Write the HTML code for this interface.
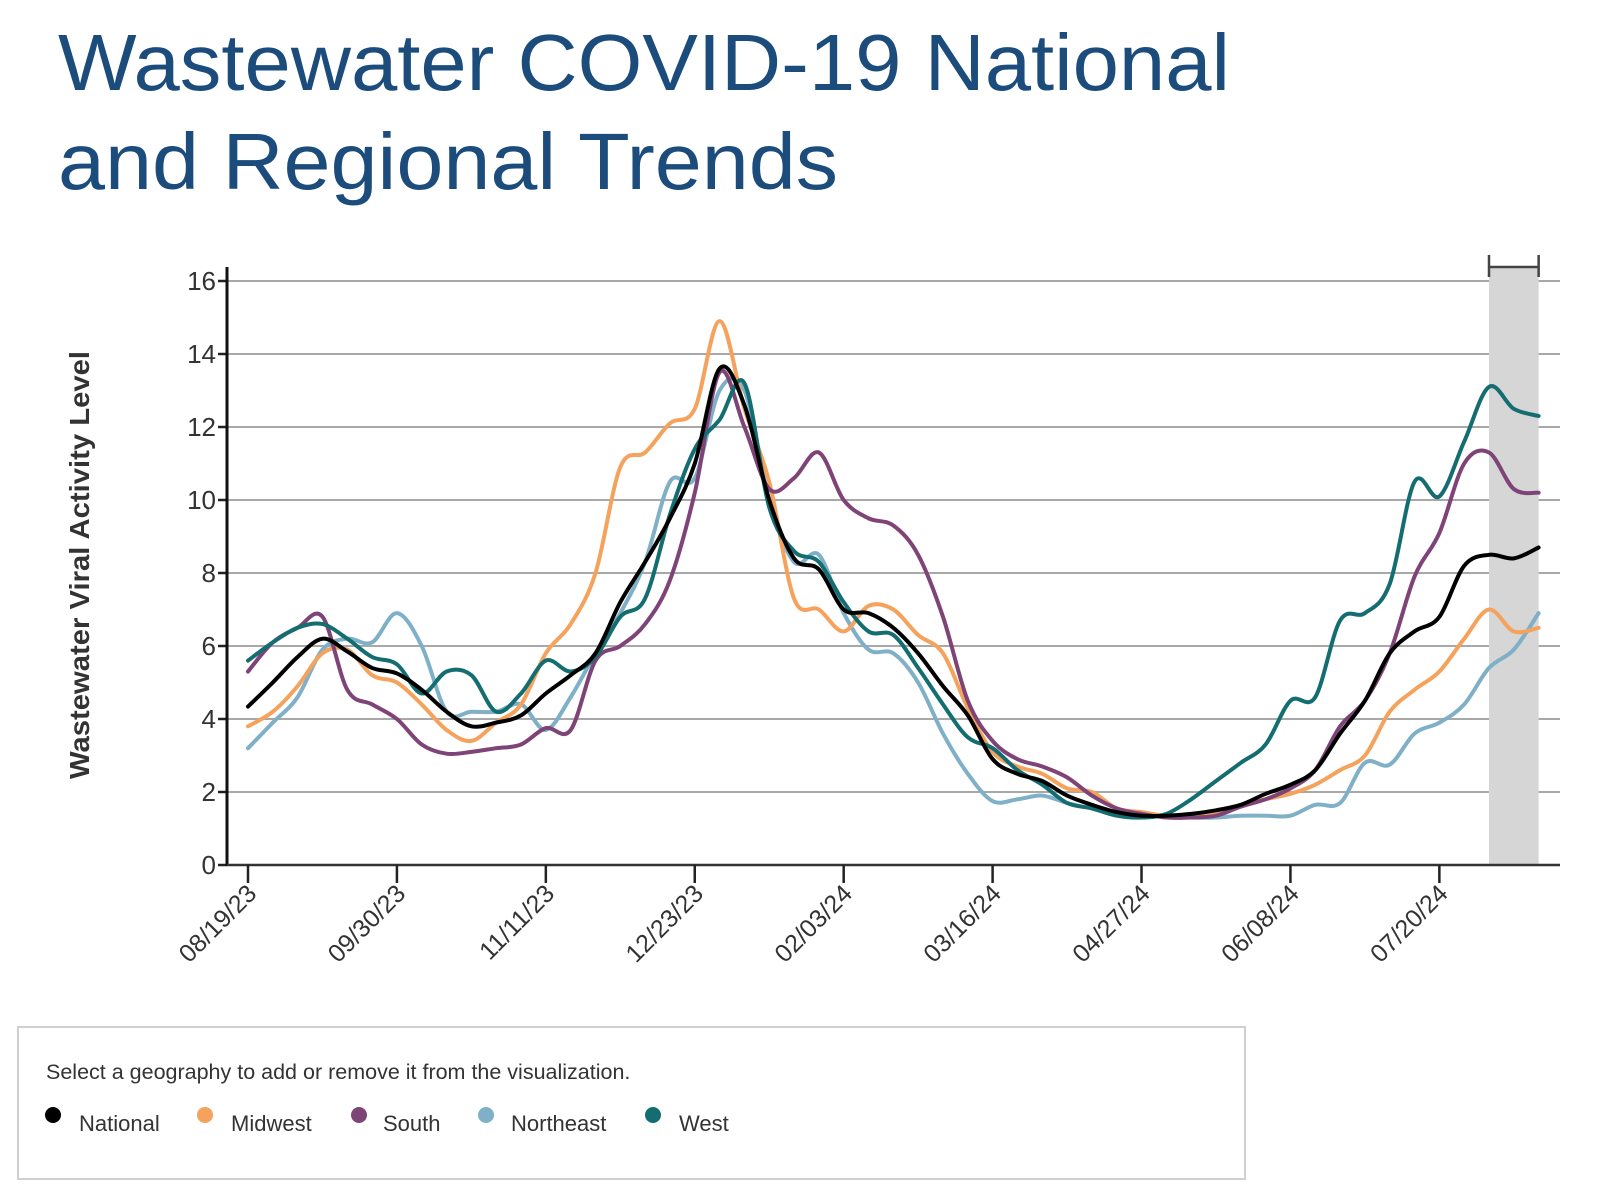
<!DOCTYPE html>
<html><head><meta charset="utf-8"><style>
html,body{margin:0;padding:0;background:#fff;}
body{width:1600px;height:1197px;overflow:hidden;position:relative;font-family:"Liberation Sans",sans-serif;}
</style></head><body>
<svg id="chart" width="1600" height="1197" viewBox="0 0 1600 1197" xmlns="http://www.w3.org/2000/svg" style="position:absolute;left:0;top:0">
<text x="58" y="90" font-size="80" fill="#1b4c7c" textLength="1172" lengthAdjust="spacingAndGlyphs">Wastewater COVID-19 National</text>
<text x="58" y="189" font-size="80" fill="#1b4c7c" textLength="780" lengthAdjust="spacingAndGlyphs">and Regional Trends</text>
<g id="grid"></g>
<rect id="band" fill="#d6d6d6"></rect>
<g id="bracket" stroke="#444" stroke-width="2.5" fill="none"></g>
<g id="series"></g>
<g id="axes"></g>
<text x="0" y="0" transform="translate(89,565) rotate(-90)" text-anchor="middle" font-size="28" font-weight="bold" fill="#333" textLength="428" lengthAdjust="spacingAndGlyphs">Wastewater Viral Activity Level</text>
<rect x="18" y="1027" width="1227" height="152" fill="#fff" stroke="#d0d0d0" stroke-width="2"></rect>
<text x="46" y="1079" font-size="21.5" fill="#333">Select a geography to add or remove it from the visualization.</text>
<g><circle cx="53" cy="1115" r="8" fill="#000"/><text x="79" y="1131" font-size="22" fill="#333">National</text></g>
<g><circle cx="205" cy="1115" r="8" fill="#f5a25d"/><text x="231" y="1131" font-size="22" fill="#333">Midwest</text></g>
<g><circle cx="359" cy="1115" r="8" fill="#7e4377"/><text x="383" y="1131" font-size="22" fill="#333">South</text></g>
<g><circle cx="486" cy="1115" r="8" fill="#7fb0c7"/><text x="511" y="1131" font-size="22" fill="#333">Northeast</text></g>
<g><circle cx="653" cy="1115" r="8" fill="#136d71"/><text x="679" y="1131" font-size="22" fill="#333">West</text></g>
</svg>
<script>
const weeks = [0,1,2,3,4,5,6,7,8,9,10,11,12,13,14,15,16,17,18,19,20,21,22,23,24,25,26,27,28,29,30,31,32,33,34,35,36,37,38,39,40,41,42,43,44,45,46,47,48,49,50,51,52];
const national = [4.34,5.0,5.7,6.2,5.85,5.4,5.25,4.8,4.2,3.8,3.9,4.1,4.7,5.2,5.8,7.2,8.3,9.5,11.0,13.6,12.6,10.0,8.4,8.1,7.0,6.9,6.5,5.8,4.9,4.1,2.9,2.5,2.3,1.9,1.65,1.45,1.35,1.35,1.4,1.5,1.65,1.95,2.2,2.6,3.6,4.5,5.8,6.4,6.8,8.2,8.5,8.4,8.7];
const midwest = [3.8,4.2,4.9,5.8,5.9,5.2,5.0,4.4,3.7,3.4,3.9,4.4,5.8,6.6,8.0,10.9,11.3,12.1,12.5,14.9,12.5,10.5,7.3,7.0,6.4,7.1,7.0,6.3,5.8,4.3,3.1,2.7,2.5,2.1,2.0,1.55,1.45,1.35,1.35,1.4,1.6,1.8,1.95,2.2,2.6,3.0,4.2,4.8,5.3,6.2,7.0,6.4,6.5];
const south = [5.3,6.1,6.5,6.8,4.8,4.4,4.0,3.3,3.05,3.1,3.2,3.3,3.75,3.7,5.6,6.0,6.6,7.8,10.2,13.5,12.0,10.3,10.6,11.3,10.0,9.5,9.3,8.5,6.8,4.5,3.4,2.9,2.7,2.4,1.9,1.55,1.4,1.3,1.3,1.35,1.6,1.8,2.1,2.6,3.8,4.5,5.8,7.9,9.1,11.0,11.3,10.3,10.2];
const northeast = [3.2,3.9,4.6,5.9,6.2,6.1,6.9,6.0,4.2,4.2,4.2,4.4,3.7,4.6,5.8,6.9,8.3,10.5,10.6,13.0,13.0,10.0,8.3,8.5,6.9,5.9,5.8,5.0,3.6,2.5,1.75,1.8,1.9,1.7,1.55,1.45,1.3,1.35,1.3,1.3,1.35,1.35,1.35,1.65,1.7,2.8,2.75,3.6,3.9,4.4,5.4,5.9,6.9];
const west = [5.6,6.1,6.5,6.6,6.2,5.7,5.5,4.7,5.3,5.2,4.2,4.7,5.6,5.3,5.7,6.8,7.3,9.6,11.4,12.2,13.2,9.8,8.6,8.3,7.2,6.4,6.3,5.4,4.4,3.5,3.2,2.6,2.2,1.7,1.55,1.35,1.3,1.4,1.8,2.3,2.8,3.3,4.5,4.6,6.7,6.9,7.7,10.5,10.1,11.6,13.1,12.5,12.3];
const yTicks = [0,2,4,6,8,10,12,14,16];
const xTickWeeks = [0,6,12,18,24,30,36,42,48];
const xTickLabels = ["08/19/23","09/30/23","11/11/23","12/23/23","02/03/24","03/16/24","04/27/24","06/08/24","07/20/24"];
const bandStartWeek = 50.0;
const bandEndWeek = 52.0;

const NS='http://www.w3.org/2000/svg';
const X0=248, PW=24.82, Y0=865, PU=36.5, AXL=227, AXR=1560;
const x = w => X0 + w*PW;
const y = v => Y0 - v*PU;
function mk(tag, attrs, parent){const e=document.createElementNS(NS,tag);for(const k in attrs)e.setAttribute(k,attrs[k]);parent.appendChild(e);return e;}

const grid=document.getElementById('grid');
const axes=document.getElementById('axes');
yTicks.forEach(t=>{
  if(t>0){const g=mk('line',{x1:AXL,x2:AXR,y1:y(t),y2:y(t),stroke:'#a8a8a8','stroke-width':2},grid);
  
  }
  const tk=mk('line',{x1:AXL-9,x2:AXL,y1:y(t),y2:y(t),stroke:'#222','stroke-width':2.5},axes);
  
  
  const lb=mk('text',{x:AXL-11,y:y(t)+9,'text-anchor':'end','font-size':26,fill:'#333'},axes);
  lb.textContent=t;
  
  
});
const band=document.getElementById('band');
band.setAttribute('x',x(bandStartWeek));band.setAttribute('width',x(bandEndWeek)-x(bandStartWeek));
band.setAttribute('y',267);band.setAttribute('height',Y0-267);
const br=document.getElementById('bracket');
mk('path',{d:`M${x(bandStartWeek)},255 V277 M${x(bandStartWeek)},267 H${x(bandEndWeek)} M${x(bandEndWeek)},255 V277`},br);

const yl=mk('line',{x1:AXL,x2:AXL,y1:267,y2:Y0+1,stroke:'#111','stroke-width':3},axes);


const xl=mk('line',{x1:AXL,x2:AXR,y1:Y0,y2:Y0,stroke:'#333','stroke-width':2.5},axes);


xTickWeeks.forEach((w,i)=>{
  const tk=mk('line',{x1:x(w),x2:x(w),y1:Y0,y2:Y0+18,stroke:'#222','stroke-width':2.5},axes);
  
  
  const lb=mk('text',{transform:`translate(${x(w)+10},${Y0+30}) rotate(-45)`,'text-anchor':'end','font-size':25,fill:'#333'},axes);
  lb.textContent=xTickLabels[i];
  
  
});

function smooth(vals){
  const p=vals.map((v,i)=>[x(weeks[i]),y(v)]);
  let d=`M${p[0][0]},${p[0][1]}`;
  for(let i=0;i<p.length-1;i++){
    const p0=p[Math.max(0,i-1)],p1=p[i],p2=p[i+1],p3=p[Math.min(p.length-1,i+2)];
    const c1=[p1[0]+(p2[0]-p0[0])/6,p1[1]+(p2[1]-p0[1])/6];
    const c2=[p2[0]-(p3[0]-p1[0])/6,p2[1]-(p3[1]-p1[1])/6];
    d+=` C${c1[0].toFixed(1)},${c1[1].toFixed(1)} ${c2[0].toFixed(1)},${c2[1].toFixed(1)} ${p2[0].toFixed(1)},${p2[1].toFixed(1)}`;
  }
  return d;
}
const sg=document.getElementById('series');
[[northeast,'#7fb0c7','northeast-line'],[midwest,'#f5a25d','midwest-line'],[south,'#7e4377','south-line'],[west,'#136d71','west-line'],[national,'#000','national-line']].forEach(s=>{
  const p=mk('path',{d:smooth(s[0]),fill:'none',stroke:s[1],'stroke-width':4,'stroke-linejoin':'round','stroke-linecap':'round'},sg);
  
  
});
</script>
</body></html>
